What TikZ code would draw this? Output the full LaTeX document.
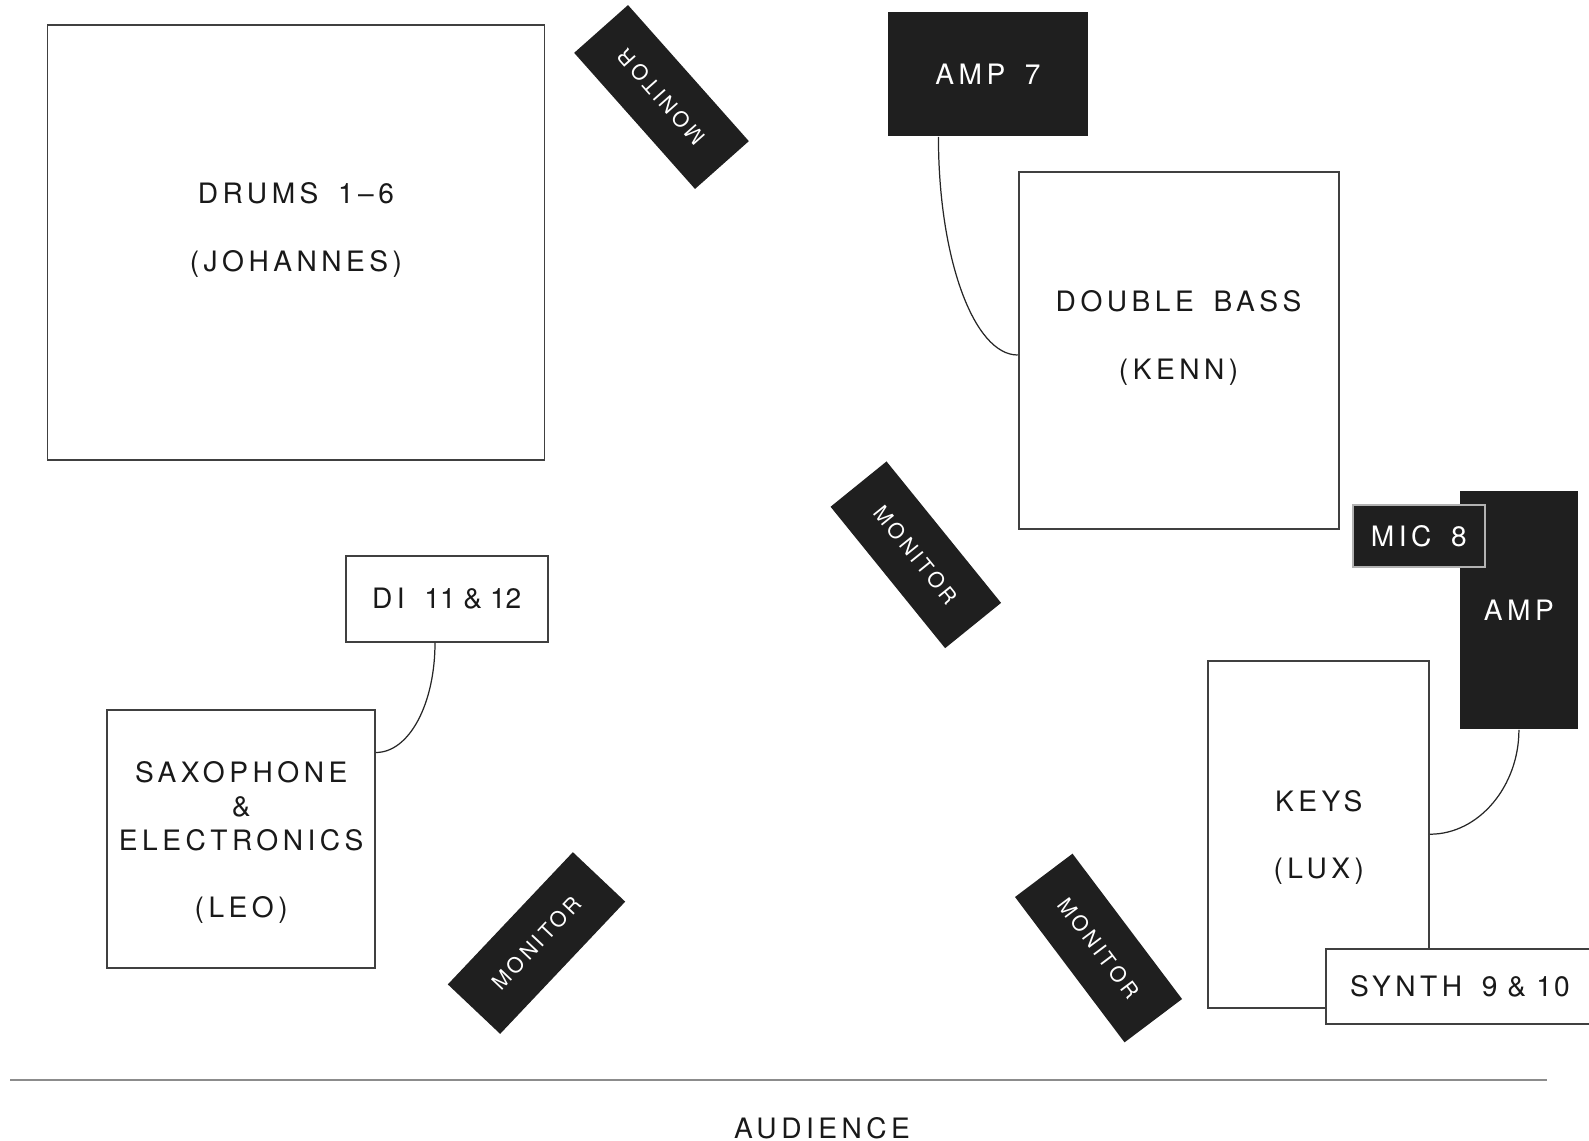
\documentclass[tikz,border=0pt]{standalone}
\usepackage{fontspec}
\setmainfont{TeX Gyre Heros}
\newfontfamily\lblfont[LetterSpace=16,WordSpace=1.6]{TeX Gyre Heros}
\newfontfamily\numfont[LetterSpace=8]{TeX Gyre Heros}

\begin{document}
\begin{tikzpicture}[
    box/.style={draw=black!75,line width=0.5pt,fill=white,text=black!90,align=center,
      inner sep=0pt,font=\lblfont\fontsize{8}{9.6}\selectfont},
    txt/.style={box,draw=none,fill=none},
    blk/.style={box,draw=none,fill=black!88,text=white},
    monitor/.style={blk,minimum width=1.82cm,minimum height=0.72cm,
      font=\lblfont\fontsize{6}{7.2}\selectfont},
    lead/.style={line width=0.35pt,black!85}]
  \clip (0,0) rectangle (15.89,-11.40);

  % drums and bass
  \node[box,minimum width=4.97cm,minimum height=4.35cm] (drums) at (2.959,-2.427) {};
  \node[txt] (drumslbl) at ([yshift=0.125cm]drums.center) {DRUMS 1–6\\[9.6pt](JOHANNES)};
  \node[blk,minimum width=2.0cm,minimum height=1.24cm] (amp7) at (9.88,-0.74) {AMP 7};
  \node[box,minimum width=3.20cm,minimum height=3.567cm] (bass) at (11.786,-3.507) {};
  \node[txt] (basslbl) at ([yshift=0.125cm]bass.center) {DOUBLE BASS\\[9.6pt](KENN)};

  % keys corner
  \node[blk,minimum width=1.177cm,minimum height=2.383cm] (amp) at (15.189,-6.099) {AMP};
  \node[blk,draw=black!30,minimum width=1.323cm,minimum height=0.617cm] (mic) at (14.189,-5.359) {MIC 8};
  \node[box,minimum width=2.207cm,minimum height=3.47cm] (keys) at (13.187,-8.342) {};
  \node[txt] (keyslbl) at ([yshift=-0.035cm]keys.center) {KEYS\\[9.6pt](LUX)};
  \node[box,minimum width=2.68cm,minimum height=0.747cm] (synth) at (14.60,-9.867) {SYNTH {\numfont 9 \& 10}};

  % sax
  \node[box,minimum width=2.02cm,minimum height=0.86cm] (di) at (4.467,-5.987) {DI {\normalfont 11 \& 12}};
  \node[box,minimum width=2.677cm,minimum height=2.583cm] (sax) at (2.412,-8.392) {};
  \node[txt] (saxlbl) at ([yshift=-0.035cm]sax.center) {SAXOPHONE\\\&\\ELECTRONICS\\[9.6pt](LEO)};

  % wedges
  \node[monitor,rotate=131.6] (mon1) at (6.615,-0.97) {MONITOR};
  \node[monitor,rotate=-51] (mon2) at (9.158,-5.548) {MONITOR};
  \node[monitor,rotate=46.6] (mon3) at (5.365,-9.43) {MONITOR};
  \node[monitor,rotate=-53] (mon4) at (10.985,-9.48) {MONITOR};

  % cables
  \draw[lead] ([xshift=0.513cm]amp7.south west) .. controls +(0,-1.21) and +(-0.44,0) .. ([yshift=-0.043cm]bass.west);
  \draw[lead] ([xshift=-0.117cm]di.south) .. controls +(0,-0.616) and +(0.331,0) .. ([yshift=-0.433cm]sax.north east);
  \draw[lead] (amp.south) .. controls +(0,-0.558) and +(0.493,0) .. (keys.east);

  % stage edge
  \coordinate (edgeL) at (0.10,-10.80);
  \coordinate (edgeR) at (15.47,-10.80);
  \draw[black!45,line width=0.6pt] (edgeL) -- (edgeR);
  \node[txt] (audience) at (8.22,-11.28) {AUDIENCE};
\end{tikzpicture}
\end{document}
